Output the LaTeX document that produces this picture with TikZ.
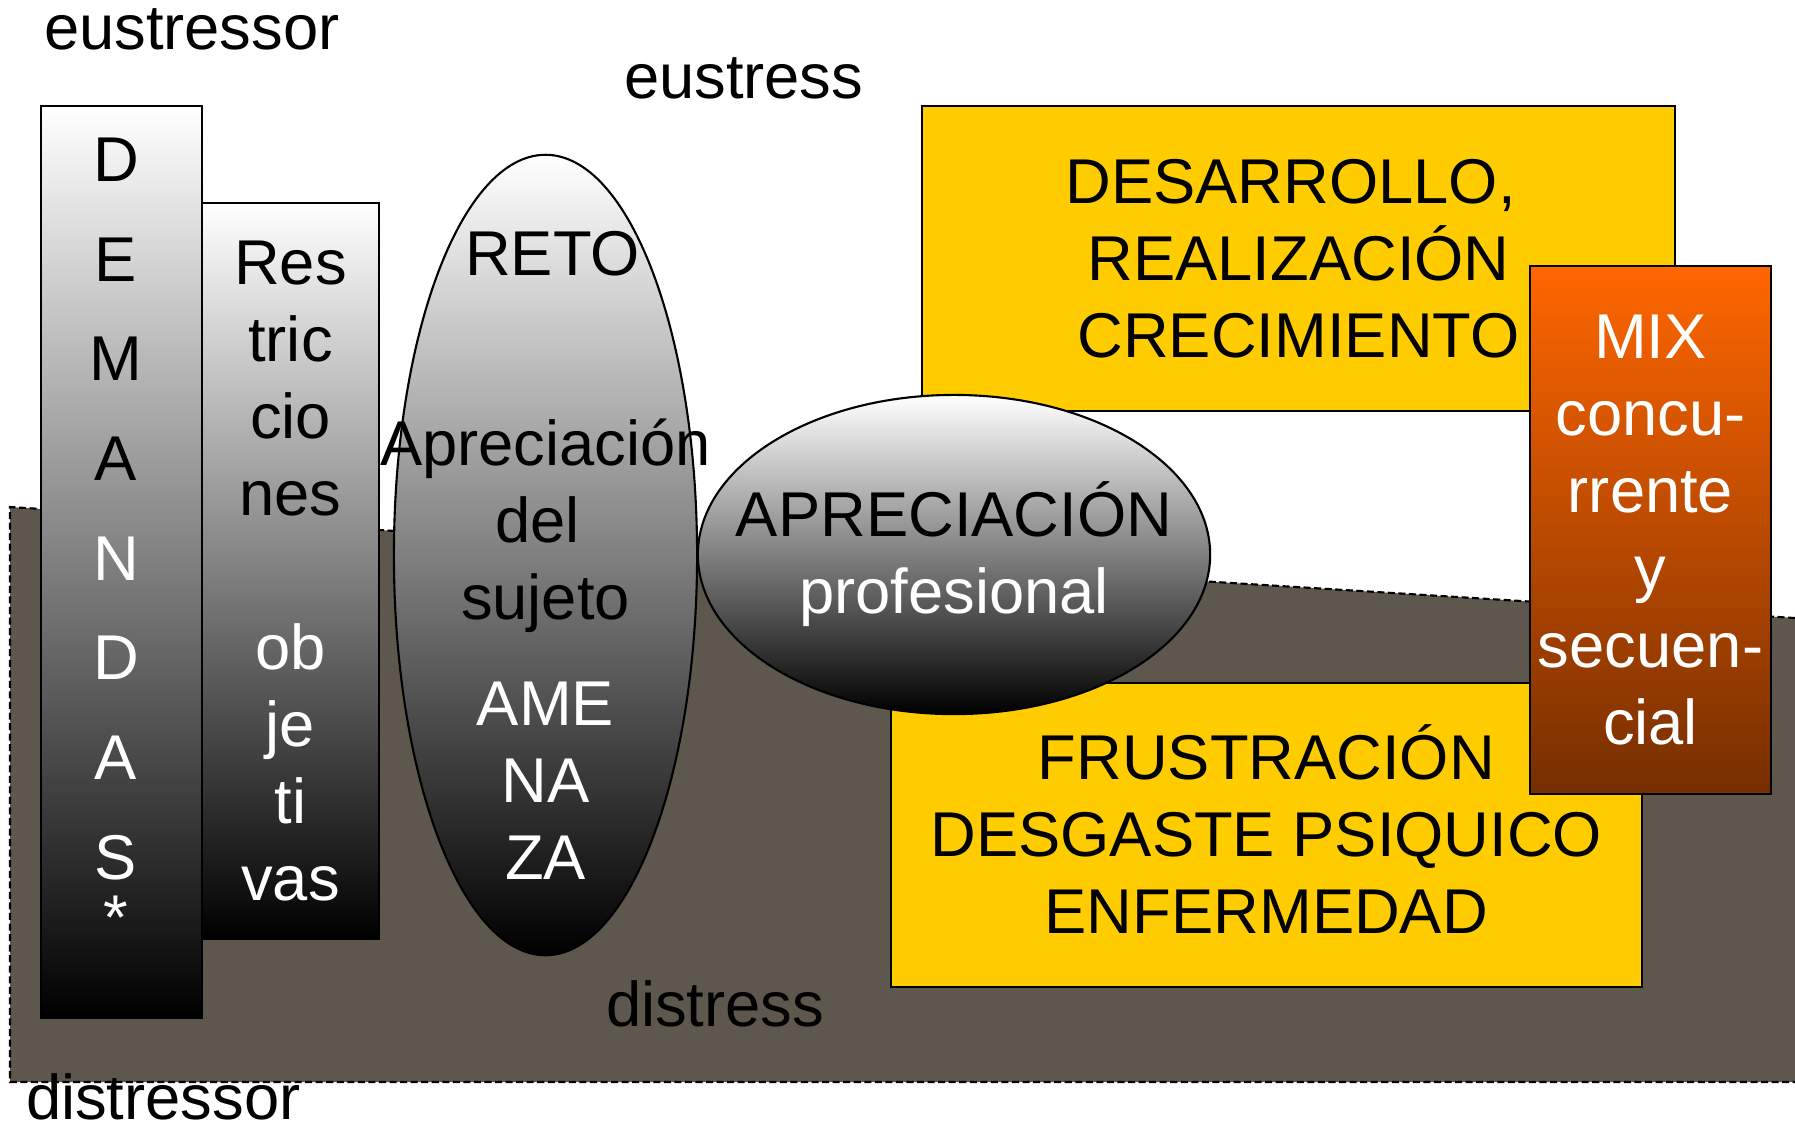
\documentclass[tikz,border=0pt]{standalone}
\usepackage{fontspec}
\setmainfont{Liberation Sans}
\usepackage{xcolor}
\usepackage{tikz}
\usetikzlibrary{shapes.geometric}

\definecolor{ground}{RGB}{94,87,77}
\definecolor{gold}{RGB}{255,204,0}
\definecolor{mixtop}{RGB}{255,102,0}
\definecolor{mixbot}{RGB}{118,46,0}
\newcommand{\whitetxt}[1]{\textcolor{white}{#1}}

\begin{document}
\begin{tikzpicture}[x=0.01cm,y=-0.01cm,line width=0.6pt,
  bigtext/.style={font=\fontsize{18}{21.9}\selectfont,align=center,inner sep=0pt},
  grey box/.style={draw,rectangle,inner sep=0pt,top color=white,bottom color=black},
  grey oval/.style={draw,ellipse,inner sep=0pt,top color=white,bottom color=black},
  gold box/.style={draw,rectangle,fill=gold,bigtext},
  stresslabel/.style={bigtext,anchor=base west}]

  \useasboundingbox (0,0) rectangle (1795,1126);

  % distress ground
  \fill[ground] (10,507) -- (1795,618) -- (1795,1082) -- (10,1082) -- cycle;
  \draw[dash pattern=on 2pt off 1pt] (1795,618) -- (10,507) -- (10,1082) -- (1795,1082);

  \node[grey box,minimum width=1.61cm,minimum height=9.12cm] (dem) at (121.5,562) {};
  \node[grey box,bigtext,minimum width=1.77cm,minimum height=7.36cm] (res) at (290.5,571)
    {Res\\tric\\cio\\nes\\[0.77cm]\whitetxt{ob}\\\whitetxt{je}\\\whitetxt{ti}\\\whitetxt{vas}};
  \node[grey oval,minimum width=3.03cm,minimum height=8cm] (reto) at (545.5,555) {};
  \node[gold box,minimum width=7.52cm,minimum height=3.04cm] (desa) at (1298.5,258.5)
    {DESARROLLO,\hspace*{0.16cm}\\REALIZACIÓN\\CRECIMIENTO};
  \node[gold box,minimum width=7.51cm,minimum height=3.03cm] (frus) at (1266.3,835)
    {FRUSTRACIÓN\\DESGASTE PSIQUICO\\ENFERMEDAD\rule[-0.12cm]{0pt}{0pt}};
  \node[grey oval,minimum width=5.12cm,minimum height=3.19cm] (apre) at (954,554.5) {};
  \node[draw,rectangle,top color=mixtop,bottom color=mixbot,text=white,bigtext,
    minimum width=2.41cm,minimum height=5.27cm] (mix) at (1650.5,530)
    {MIX\\concu-\\rrente\\y\\secuen-\\cial};

  % texts over the shaded shapes
  \node[bigtext,font=\fontsize{18}{28.34}\selectfont,anchor=north] (dem-txt) at (116,137)
    {D\\E\\M\\A\\\whitetxt{N}\\\whitetxt{D}\\\whitetxt{A}\\\whitetxt{S}\\[-0.39cm]\whitetxt{*}};
  \node[bigtext] (reto-txt) at (reto.center)
    {\hspace*{0.14cm}RETO\\[1.13cm]Apreciación\\\hspace*{-0.16cm}del\\sujeto\\[0.29cm]\whitetxt{AME}\\\whitetxt{NA}\\\whitetxt{ZA}};
  \node[bigtext] (apre-txt) at (apre.center) {APRECIACIÓN\\\whitetxt{profesional}};

  \node[stresslabel] (eustressor) at (43,49) {eustressor};
  \node[stresslabel] (eustress) at (623,98) {eustress};
  \node[stresslabel] (distress) at (605,1026) {distress};
  \node[stresslabel] (distressor) at (25,1119) {distressor};
\end{tikzpicture}
\end{document}
